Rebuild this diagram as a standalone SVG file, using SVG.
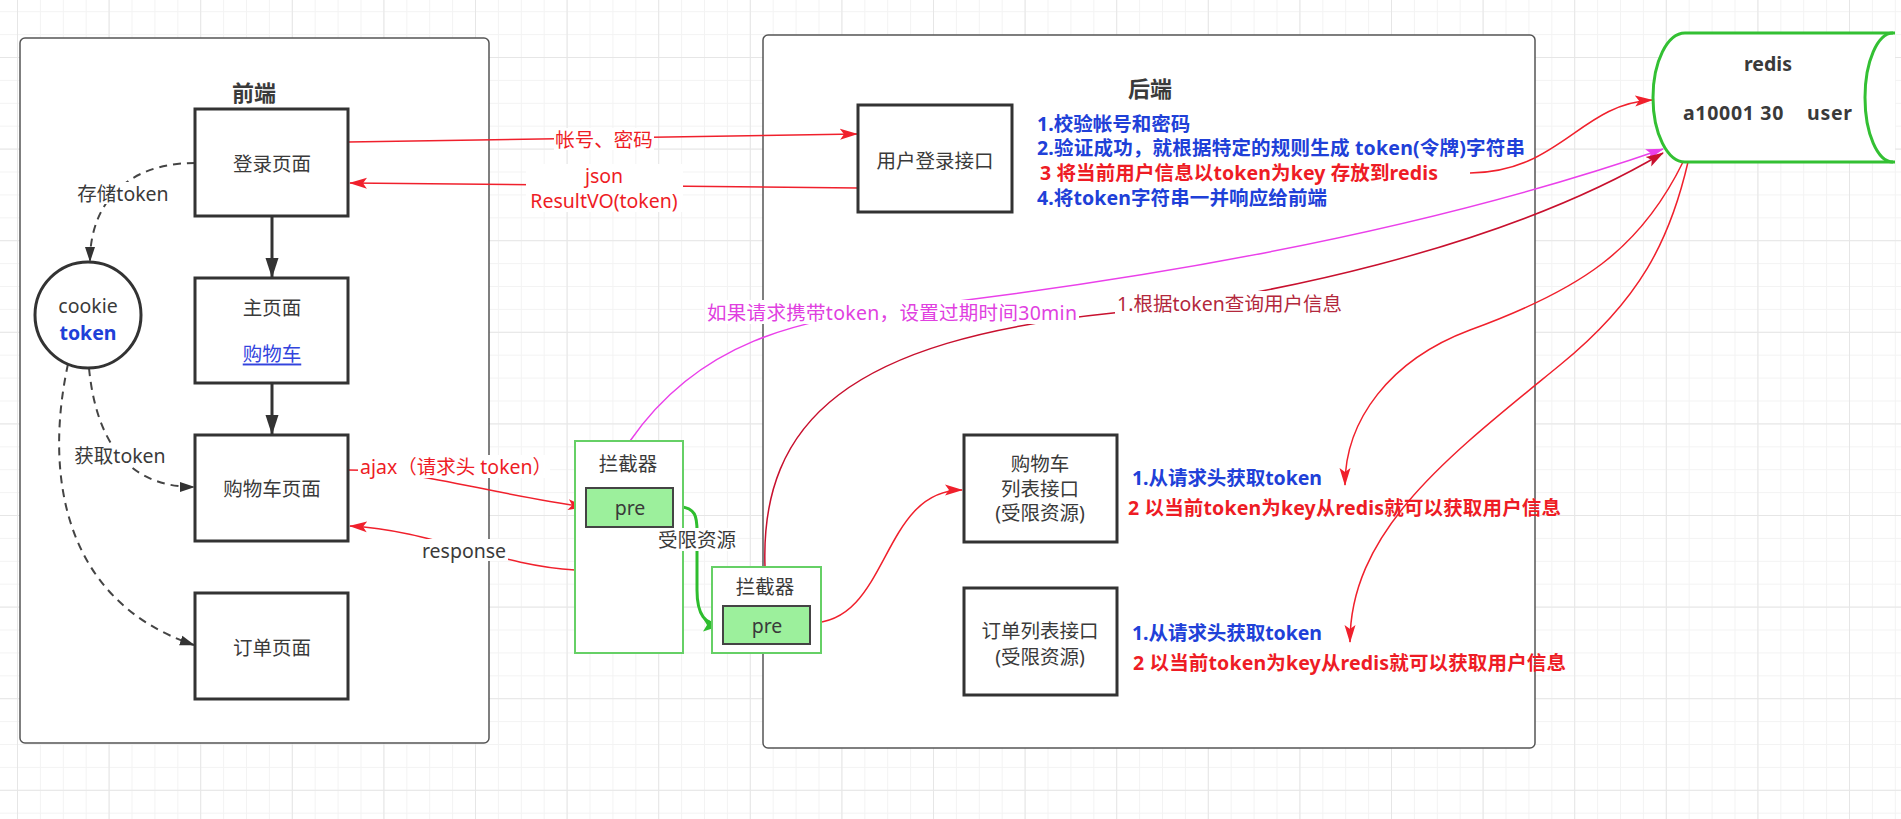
<svg xmlns="http://www.w3.org/2000/svg" width="1901" height="819" viewBox="0 0 1901 819">
<style>
.t{font-family:"Noto Sans","Noto Sans CJK SC",sans-serif;font-size:19.5px;fill:#3a3a3a;text-anchor:middle;dominant-baseline:central}
.b{font-weight:bold}
.l{text-anchor:start}
.blue{fill:#2040d8}
.red{fill:#ee1c25}
.box{fill:#fff;stroke:#333;stroke-width:3}
.cont{fill:#fff;stroke:#555;stroke-width:1.5}
.icpt{fill:#fff;stroke:#66d066;stroke-width:2}
.pre{fill:#9cf09c;stroke:#444;stroke-width:2}
.lbg{fill:#fff}
.rl{fill:none;stroke:#f0202c;stroke-width:1.5}
.dash{fill:none;stroke:#444;stroke-width:2;stroke-dasharray:8 6}
</style>
<defs>
<pattern id="gMin" width="22.9" height="22.9" patternUnits="userSpaceOnUse" x="17" y="57"><path d="M22.9,0 L0,0 0,22.9" fill="none" stroke="#f3f3f3" stroke-width="2"/></pattern>
<pattern id="gMaj" width="91.6" height="91.6" patternUnits="userSpaceOnUse" x="17" y="57"><path d="M91.6,0 L0,0 0,91.6" fill="none" stroke="#e6e6e6" stroke-width="2"/></pattern>
<marker id="aBlk" markerUnits="userSpaceOnUse" markerWidth="20" markerHeight="16" viewBox="0 0 20 16" refX="19" refY="8" orient="auto"><path d="M0,1.5 L20,8 L0,14.5 Z" fill="#333"/></marker>
<marker id="aDash" markerUnits="userSpaceOnUse" markerWidth="15" markerHeight="12" viewBox="0 0 15 12" refX="14" refY="6" orient="auto"><path d="M0,1 L15,6 L0,11 Z" fill="#333"/></marker>
<marker id="aRed" markerUnits="userSpaceOnUse" markerWidth="18" markerHeight="12" viewBox="0 0 18 12" refX="17" refY="6" orient="auto"><path d="M0,0.5 L18,6 L0,11.5 L4,6 Z" fill="#f0202c"/></marker>
<marker id="aDRed" markerUnits="userSpaceOnUse" markerWidth="18" markerHeight="12" viewBox="0 0 18 12" refX="17" refY="6" orient="auto"><path d="M0,0.5 L18,6 L0,11.5 L4,6 Z" fill="#c8102e"/></marker>
<marker id="aMag" markerUnits="userSpaceOnUse" markerWidth="18" markerHeight="12" viewBox="0 0 18 12" refX="17" refY="6" orient="auto"><path d="M0,0.5 L18,6 L0,11.5 L4,6 Z" fill="#ea40ea"/></marker>
<marker id="aGrn" markerUnits="userSpaceOnUse" markerWidth="20" markerHeight="14" viewBox="0 0 20 14" refX="19" refY="7" orient="auto"><path d="M0,0.5 L20,7 L0,13.5 L4,7 Z" fill="#2ebd2e"/></marker>
</defs>
<rect width="1901" height="819" fill="#fff"/>
<rect width="1901" height="819" fill="url(#gMin)"/>
<rect width="1901" height="819" fill="url(#gMaj)"/>

<g id="frontend-container">
<rect class="cont" x="20" y="38" width="469" height="705" rx="5"/>
<text class="t b" x="254" y="92" style="font-size:22px">前端</text>
</g>
<g id="backend-container">
<rect class="cont" x="763" y="35" width="772" height="713" rx="5"/>
<text class="t b" x="1150" y="88" style="font-size:22px">后端</text>
</g>

<g id="connectors">
<line x1="272" y1="216" x2="272" y2="277" stroke="#333" stroke-width="3" marker-end="url(#aBlk)"/>
<line x1="272" y1="383" x2="272" y2="434" stroke="#333" stroke-width="3" marker-end="url(#aBlk)"/>
<path class="dash" d="M195,163 C125,163 90,205 90,261" marker-end="url(#aDash)"/>
<path class="dash" d="M89,368 C95,430 120,487 194,487" marker-end="url(#aDash)"/>
<path class="dash" d="M68,364 C45,470 60,600 194,645" marker-end="url(#aDash)"/>
<path class="rl" d="M348,142 L857,134" marker-end="url(#aRed)"/>
<path class="rl" d="M858,188 L350,183" marker-end="url(#aRed)"/>
<path class="rl" d="M348,470 C420,470 480,492 585,507" marker-end="url(#aRed)"/>
<path class="rl" d="M575,570 C500,566 430,530 350,526" marker-end="url(#aRed)"/>
<path d="M673,506 C700,506 697,520 697,540 L697,590 C697,615 705,625 722,625" fill="none" stroke="#2ebd2e" stroke-width="3" marker-end="url(#aGrn)"/>
<path class="rl" d="M810,623 C890,623 880,490 962,490" marker-end="url(#aRed)"/>
<path d="M630,441 C700,340 800,320 900,308 C1100,285 1400,240 1663,149" fill="none" stroke="#ea40ea" stroke-width="1.5" marker-end="url(#aMag)"/>
<path d="M765,567 C760,420 850,340 1113,313 C1250,300 1500,250 1663,153" fill="none" stroke="#c8102e" stroke-width="1.5" marker-end="url(#aDRed)"/>
<path class="rl" d="M1470,173 C1560,172 1580,104 1652,100" marker-end="url(#aRed)"/>
<path class="rl" d="M1683,162 C1640,250 1580,290 1470,330 C1390,360 1345,420 1345,485" marker-end="url(#aRed)"/>
<path class="rl" d="M1688,162 C1670,240 1640,300 1560,365 C1450,455 1350,530 1350,642" marker-end="url(#aRed)"/>
</g>

<g id="login-page">
<rect class="box" x="195" y="109" width="153" height="107"/>
<text class="t" x="272" y="163">登录页面</text>
</g>
<g id="main-page">
<rect class="box" x="195" y="278" width="153" height="105"/>
<text class="t" x="272" y="307">主页面</text>
<text class="t" x="272" y="353" style="fill:#3344dd;text-decoration:underline">购物车</text>
</g>
<g id="cart-page">
<rect class="box" x="195" y="435" width="153" height="106"/>
<text class="t" x="272" y="488">购物车页面</text>
</g>
<g id="order-page">
<rect class="box" x="195" y="593" width="153" height="106"/>
<text class="t" x="272" y="647">订单页面</text>
</g>
<g id="cookie">
<circle cx="88" cy="315" r="53" fill="#fff" stroke="#333" stroke-width="3"/>
<text class="t" x="88" y="305">cookie</text>
<text class="t b blue" x="88" y="332">token</text>
</g>

<g id="interceptor-1">
<rect class="icpt" x="575" y="441" width="108" height="212"/>
<text class="t" x="628" y="463">拦截器</text>
<rect class="pre" x="586" y="488" width="87" height="39"/>
<text class="t" x="630" y="507">pre</text>
</g>
<g id="interceptor-2">
<rect class="icpt" x="712" y="567" width="109" height="86"/>
<text class="t" x="765" y="586">拦截器</text>
<rect class="pre" x="723" y="606" width="87" height="38"/>
<text class="t" x="767" y="625">pre</text>
</g>

<g id="login-api">
<rect class="box" x="858" y="105" width="154" height="107"/>
<text class="t" x="935" y="160">用户登录接口</text>
</g>
<g id="login-notes">
<text class="t b blue l" x="1037" y="123">1.校验帐号和密码</text>
<text class="t b blue l" x="1037" y="147" textLength="488">2.验证成功，就根据特定的规则生成 token(令牌)字符串</text>
<text class="t b red l" x="1040" y="172" textLength="398">3 将当前用户信息以token为key 存放到redis</text>
<text class="t b blue l" x="1037" y="197" textLength="290">4.将token字符串一并响应给前端</text>
</g>
<g id="cart-api">
<rect class="box" x="964" y="435" width="153" height="107"/>
<text class="t" x="1040" y="463">购物车</text>
<text class="t" x="1040" y="488">列表接口</text>
<text class="t" x="1040" y="512">(受限资源)</text>
</g>
<g id="cart-notes">
<text class="t b blue l" x="1132" y="477" textLength="190">1.从请求头获取token</text>
<text class="t b red l" x="1128" y="507" textLength="433">2 以当前token为key从redis就可以获取用户信息</text>
</g>
<g id="order-api">
<rect class="box" x="964" y="588" width="153" height="107"/>
<text class="t" x="1040" y="630">订单列表接口</text>
<text class="t" x="1040" y="656">(受限资源)</text>
</g>
<g id="order-notes">
<text class="t b blue l" x="1132" y="632" textLength="190">1.从请求头获取token</text>
<text class="t b red l" x="1133" y="662" textLength="433">2 以当前token为key从redis就可以获取用户信息</text>
</g>

<g id="redis">
<path d="M1685,33 L1895,33 L1895,162 L1685,162 A32,64.5 0 0 1 1685,33 Z" fill="#fff" stroke="none"/>
<path d="M1895,33 L1685,33 A32,64.5 0 0 0 1685,162 L1895,162" fill="none" stroke="#33c033" stroke-width="3"/>
<path d="M1893,33 A28,64.5 0 0 0 1893,162" fill="none" stroke="#33c033" stroke-width="3"/>
<text class="t b" x="1768" y="63">redis</text>
<text class="t b l" x="1683" y="112" xml:space="preserve" textLength="169">a10001 30    user</text>
</g>

<g id="connector-labels">
<rect class="lbg" x="77" y="182" width="92" height="22"/>
<text class="t" x="123" y="193">存储token</text>
<rect class="lbg" x="74" y="444" width="93" height="22"/>
<text class="t" x="120" y="455">获取token</text>
<rect class="lbg" x="554" y="128" width="100" height="22"/>
<text class="t red" x="604" y="139">帐号、密码</text>
<rect class="lbg" x="526" y="164" width="157" height="48"/>
<text class="t red" x="604" y="175">json</text>
<text class="t red" x="604" y="200">ResultVO(token)</text>
<rect class="lbg" x="358" y="455" width="192" height="23"/>
<text class="t red l" x="360" y="466">ajax（请求头 token）</text>
<rect class="lbg" x="420" y="539" width="88" height="22"/>
<text class="t" x="464" y="550">response</text>
<rect class="lbg" x="656" y="528" width="82" height="23"/>
<text class="t" x="697" y="539">受限资源</text>
<rect class="lbg" x="705" y="300" width="374" height="24"/>
<text class="t l" x="707" y="312" style="fill:#e040e0" textLength="370">如果请求携带token，设置过期时间30min</text>
<rect class="lbg" x="1115" y="291" width="229" height="24"/>
<text class="t l" x="1117" y="303" style="fill:#b3283c" textLength="225">1.根据token查询用户信息</text>
</g>
</svg>
